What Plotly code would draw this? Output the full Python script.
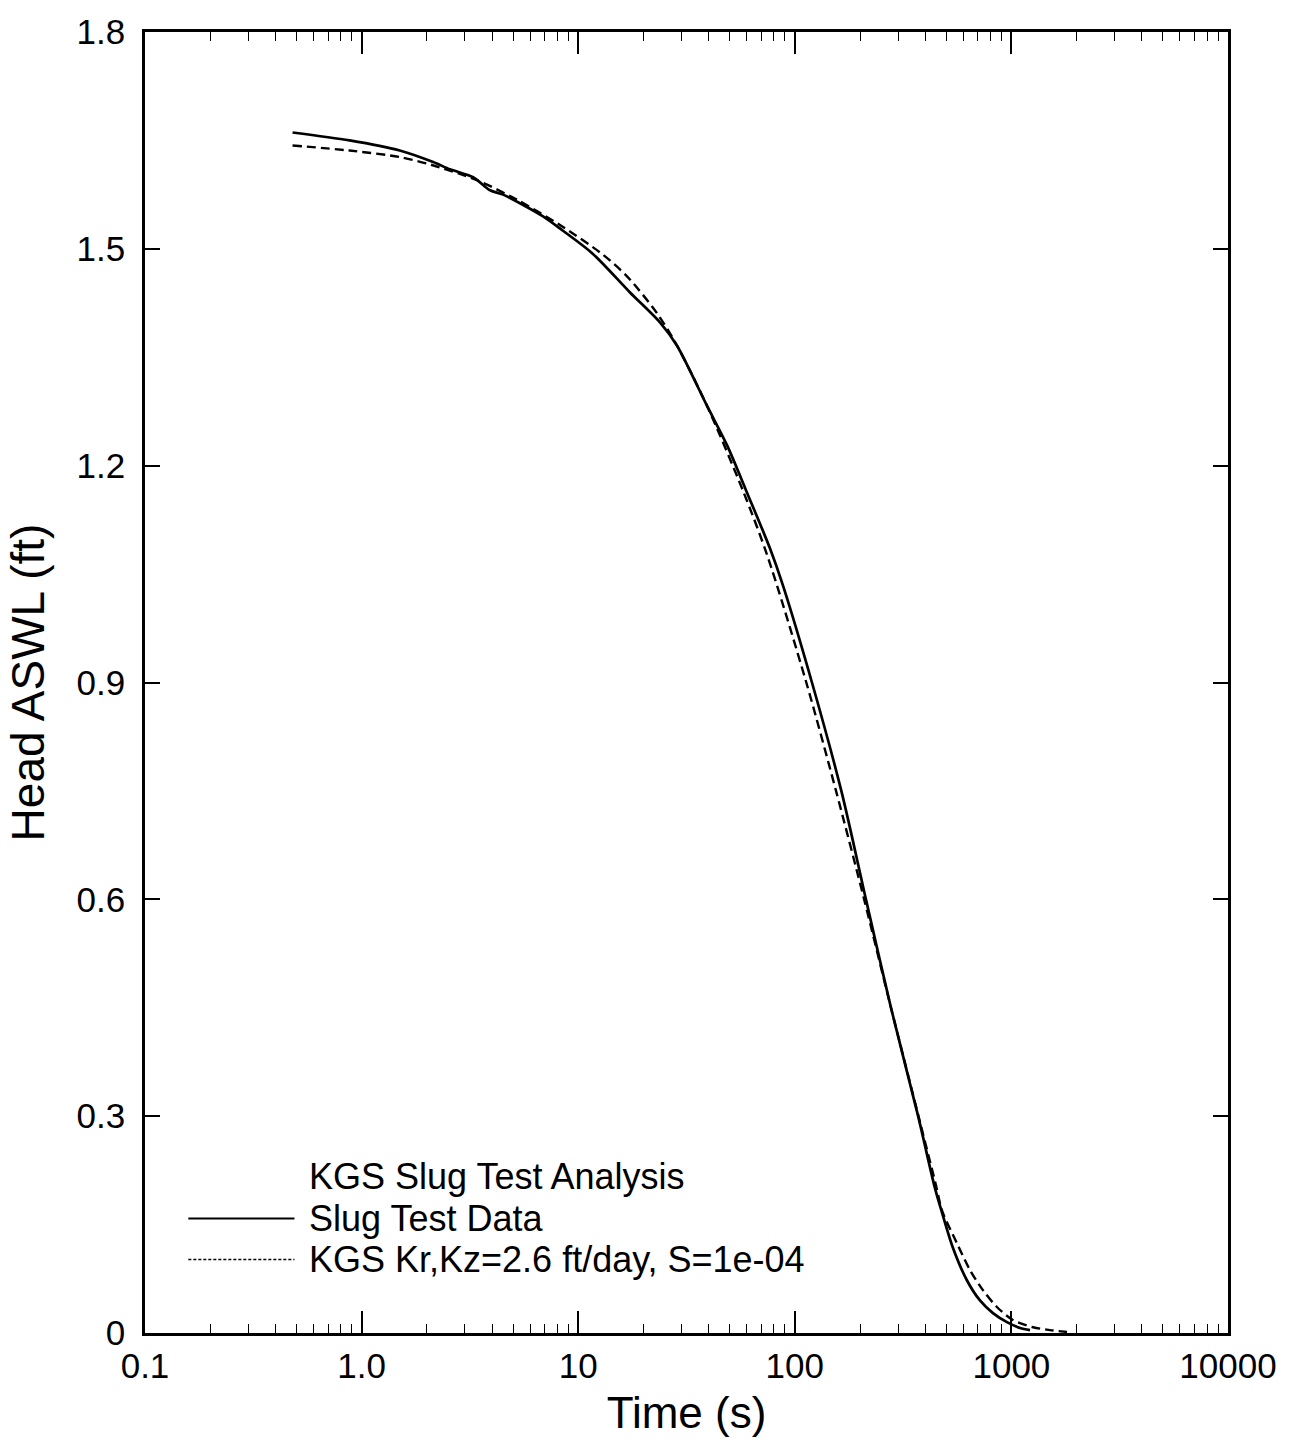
import plotly.graph_objects as go

# ---- data ----
data_t = [0.48, 0.88, 1.5, 2.14, 2.56, 3.27, 3.92, 4.5, 6.88, 8.51, 11.7, 17.3, 23.9, 28.6,
          39.3, 48.7, 60.1, 76.7, 88.0, 120, 164, 213, 278, 371, 444, 479, 537, 623,
          716, 822, 954, 1097, 1219]
data_h = [1.661, 1.650, 1.636, 1.620, 1.610, 1.599, 1.581, 1.575, 1.545, 1.525, 1.493, 1.440,
          1.398, 1.366, 1.283, 1.228, 1.163, 1.086, 1.035, 0.900, 0.750, 0.600, 0.450,
          0.300, 0.200, 0.166, 0.118, 0.073, 0.045, 0.0275, 0.015, 0.007, 0.004]

model_t = [0.48, 0.88, 1.5, 2.11, 3.41, 5.21, 8.24, 13.0, 16.8, 23.1, 28.6, 39.3, 57.7, 74.4,
           113, 155, 209, 278, 371, 448, 479, 561, 644, 740, 857, 1016, 1259, 1507, 1806]
model_h = [1.643, 1.636, 1.627, 1.616, 1.595, 1.568, 1.533, 1.492, 1.462, 1.411, 1.366, 1.283,
           1.165, 1.077, 0.900, 0.750, 0.600, 0.450, 0.302, 0.205, 0.169, 0.124, 0.087, 0.059,
           0.036, 0.018, 0.008, 0.004, 0.0015]

x_tickvals = [0.1, 1, 10, 100, 1000, 10000]
x_ticktext = ["0.1", "1.0", "10", "100", "1000", "10000"]
y_tickvals = [0, 0.3, 0.6, 0.9, 1.2, 1.5, 1.8]
y_ticktext = ["0", "0.3", "0.6", "0.9", "1.2", "1.5", "1.8"]

legend_title = "KGS Slug Test Analysis"
name_data = "Slug Test Data"
name_model = "KGS Kr,Kz=2.6 ft/day, S=1e-04"

FONT = "Liberation Sans, Arial, Helvetica, sans-serif"

fig = go.Figure()
fig.add_trace(go.Scatter(x=data_t, y=data_h, mode="lines", name=name_data,
                         line=dict(color="black", width=2.7, shape="spline", smoothing=0.8),
                         showlegend=False))
fig.add_trace(go.Scatter(x=model_t, y=model_h, mode="lines", name=name_model,
                         line=dict(color="black", width=2.4, dash="9px,5px", shape="spline", smoothing=0.8),
                         showlegend=False))

# manual legend (sample lines + labels)
leg_x0, leg_x1, txt_x = 0.040, 0.138, 0.150
rows = [(0.120, legend_title, None), (0.088, name_data, "solid"), (0.0565, name_model, "3px,2px")]
for yy, txt, dash in rows:
    fig.add_annotation(x=txt_x, y=yy, xref="paper", yref="paper", text=txt, showarrow=False,
                       xanchor="left", yanchor="middle", font=dict(family=FONT, size=36, color="black"))
    if dash:
        fig.add_shape(type="line", xref="paper", yref="paper", x0=leg_x0, x1=leg_x1, y0=yy, y1=yy,
                      line=dict(color="black", width=2 if dash == "solid" else 1.6, dash=dash))

axis_common = dict(showline=True, linecolor="black", linewidth=2.8, mirror="ticks",
                   ticks="inside", tickcolor="black", showgrid=False, zeroline=False,
                   tickfont=dict(family=FONT, size=35, color="black"))

fig.update_xaxes(type="log", range=[-1, 4], tickvals=x_tickvals, ticktext=x_ticktext,
                 ticklen=22, tickwidth=1.6,
                 minor=dict(ticks="inside", ticklen=9, tickwidth=1.4, tickcolor="black",
                            dtick="D1", showgrid=False),
                 title=dict(text="Time (s)", font=dict(family=FONT, size=44, color="black"), standoff=14),
                 **axis_common)
fig.update_yaxes(range=[0, 1.8], tickvals=y_tickvals, ticktext=y_ticktext,
                 ticklen=15, tickwidth=1.6, ticklabelstandoff=10,
                 title=dict(text="Head ASWL (ft)", font=dict(family=FONT, size=46, color="black"), standoff=18),
                 **axis_common)

fig.update_layout(width=1293, height=1446, margin=dict(l=145, r=65, t=24, b=113),
                  plot_bgcolor="white", paper_bgcolor="white",
                  font=dict(family=FONT, color="black"))

fig.write_html("out.html", config={"displayModeBar": False},
               post_script="document.body.style.margin='0';document.body.style.overflow='hidden';")
